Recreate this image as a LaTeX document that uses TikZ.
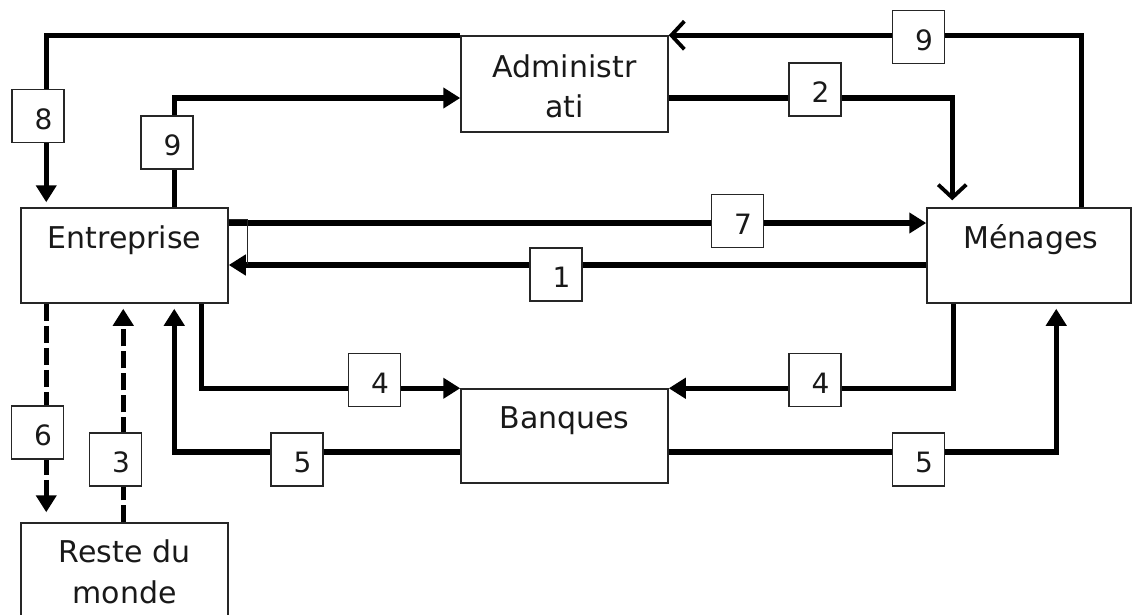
\documentclass[tikz,border=0pt]{standalone}
\usepackage{fontspec}
\setmainfont{DejaVu Sans}
\usetikzlibrary{arrows.meta}
\begin{document}
\begin{tikzpicture}[x=1pt,y=-1pt,
  mainbox/.style={draw=black!85, line width=1.5pt, minimum width=207pt, minimum height=95pt, inner sep=0pt},
  boxtext/.style={font=\fontsize{30}{36}\selectfont, anchor=base, inner sep=0pt, text=black!90},
  numbox/.style={draw=black!85, fill=white, line width=1.5pt, minimum width=52pt, minimum height=53pt, inner sep=0pt, font=\fontsize{28}{34}\selectfont, text height=26.5pt, text depth=0pt, text=black!90},
  flow/.style={line width=5.5pt, -{Triangle[length=17pt,width=20pt]}},
  flowopen/.style={line width=5.5pt, -{Straight Barb[length=13pt,width=28pt,line width=3.8pt]}},
  dflow/.style={flow, dash pattern=on 17pt off 5pt},
  thinline/.style={line width=1pt, draw=black!85}
]
\clip (0,0) rectangle (1133,614);
\useasboundingbox (0,0) rectangle (1133,614);

% main boxes
\node[mainbox] (ent) at (124.5,255.5) {};
\node[mainbox, minimum height=96pt] (adm) at (564.5,84) {};
\node[mainbox, minimum width=204pt] (men) at (1029,255.5) {};
\node[mainbox, minimum height=94pt] (ban) at (564.5,436) {};
\node[mainbox, minimum height=120pt] (rdm) at (124.5,583) {};

% box texts
\node[boxtext] (entT) at (124.5,248) {Entreprise};
\node[boxtext] (admT1) at (564.5,77) {Administr};
\node[boxtext] (admT2) at (564.5,117) {ati};
\node[boxtext] (menT) at (1031,248) {Ménages};
\node[boxtext] (banT) at (564.5,428) {Banques};
\node[boxtext] (rdmT1) at (124.5,562) {Reste du};
\node[boxtext] (rdmT2) at (124.5,603) {monde};

% connectors
\draw[flow, shorten >=5pt] (adm.north west) -| ([xshift=26pt]ent.north west);
\draw[flow] ([xshift=154pt]ent.north west) |- ([yshift=-14pt]adm.west);
\draw[flowopen] ([xshift=155pt]men.north west) |- (adm.north east);
\draw[flowopen, shorten >=7pt] ([yshift=-14pt]adm.east) -| ([xshift=26pt]men.north west);
\draw[flow] ([yshift=32.5pt]ent.east) -- ([yshift=32.5pt]men.west);
\draw[flow] ([yshift=-9.5pt]men.west) -- ([yshift=-9.5pt]ent.east);
\draw[thinline] ([yshift=36.5pt]ent.east) -- ([xshift=19pt,yshift=36.5pt]ent.east) -- ([xshift=19pt,yshift=-8pt]ent.east);
\draw[flow] ([xshift=181pt]ent.south west) |- (ban.north west);
\draw[flow] ([xshift=27pt]men.south west) |- (ban.north east);
\draw[flow, shorten >=5pt] ([yshift=-16pt]ban.west) -| ([xshift=154pt]ent.south west);
\draw[flow, shorten >=5pt] ([yshift=-16pt]ban.east) -| ([xshift=130pt]men.south west);
\draw[dflow, shorten >=10pt] ([xshift=26pt]ent.south west) -- ([xshift=26pt]rdm.north west);
\draw[dflow, shorten >=5pt] ([xshift=103pt]rdm.north west) -- ([xshift=103pt]ent.south west);

% number labels
\newcommand{\numlab}[1]{\hspace*{11pt}#1}
\node[numbox] (n8) at (38,116) {\numlab{8}};
\node[numbox] (n9a) at (167,142.5) {\numlab{9}};
\node[numbox] (n9b) at (918.5,37) {\numlab{9}};
\node[numbox] (n2) at (815,89.5) {\numlab{2}};
\node[numbox] (n7) at (737.5,221) {\numlab{7}};
\node[numbox] (n1) at (556,274.5) {\numlab{1}};
\node[numbox] (n4a) at (374.5,380) {\numlab{4}};
\node[numbox] (n4b) at (815,380) {\numlab{4}};
\node[numbox] (n5a) at (297,459.5) {\numlab{5}};
\node[numbox] (n5b) at (918.5,459.5) {\numlab{5}};
\node[numbox] (n6) at (37.5,432.5) {\numlab{6}};
\node[numbox] (n3) at (115.5,459.5) {\numlab{3}};
\end{tikzpicture}
\end{document}
